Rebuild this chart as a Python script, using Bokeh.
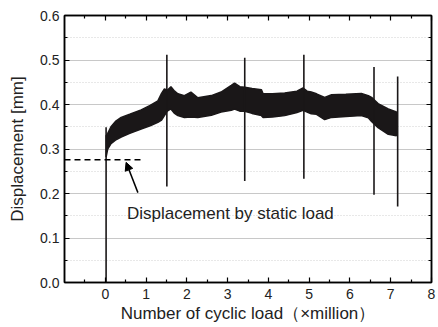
from bokeh.plotting import figure
from bokeh.models import (FixedTicker, LinearAxis, Range1d, Arrow, NormalHead,
                          CustomJSTickFormatter, ColumnDataSource)
from bokeh.core.properties import value
from bokeh.embed import file_html
from bokeh.resources import INLINE

# ---- data ----
cycles = [0.02, 0.06, 0.14, 0.25, 0.39, 0.6, 0.88, 1.1, 1.29, 1.38, 1.45, 1.52,
          1.61, 1.7, 1.78, 1.94, 2.1, 2.27, 2.6, 2.84, 3.09, 3.17, 3.3, 3.42,
          3.6, 3.83, 3.87, 4.1, 4.4, 4.7, 4.85, 4.95, 5.05, 5.18, 5.38, 5.55,
          5.9, 6.28, 6.45, 6.53, 6.69, 6.94, 7.14]
disp_upper = [0.33, 0.335, 0.35, 0.362, 0.371, 0.378, 0.388, 0.398, 0.408, 0.425,
              0.435, 0.432, 0.44, 0.43, 0.424, 0.42, 0.428, 0.415, 0.42, 0.428,
              0.443, 0.448, 0.44, 0.439, 0.436, 0.433, 0.424, 0.424, 0.426, 0.43,
              0.437, 0.43, 0.428, 0.424, 0.416, 0.422, 0.423, 0.425, 0.42, 0.416,
              0.402, 0.39, 0.383]
disp_lower = [0.282, 0.30, 0.312, 0.32, 0.327, 0.335, 0.345, 0.352, 0.36, 0.365,
              0.375, 0.385, 0.39, 0.38, 0.375, 0.371, 0.372, 0.371, 0.376, 0.383,
              0.387, 0.39, 0.385, 0.385, 0.38, 0.375, 0.371, 0.372, 0.375, 0.382,
              0.387, 0.383, 0.379, 0.378, 0.366, 0.371, 0.373, 0.375, 0.37, 0.362,
              0.348, 0.333, 0.330]

spike_x = [0.02, 1.51, 3.42, 4.87, 6.59, 7.17]
spike_low = [0.0, 0.216, 0.228, 0.233, 0.197, 0.171]
spike_high = [0.349, 0.512, 0.505, 0.512, 0.484, 0.463]

static_disp = 0.276
static_x = [-1.0, 0.88]
static_y = [static_disp, static_disp]

note_text = ["Displacement by static load"]
note_x = [0.53]
note_y = [0.155]
arrow_from = (0.80, 0.202)
arrow_to = (0.51, 0.270)

x_ticks = [0, 1, 2, 3, 4, 5, 6, 7, 8]
x_minor = [-0.5, 0.5, 1.5, 2.5, 3.5, 4.5, 5.5, 6.5, 7.5]
y_ticks = [0.0, 0.1, 0.2, 0.3, 0.4, 0.5, 0.6]
y_minor = [0.05, 0.15, 0.25, 0.35, 0.45, 0.55]

FONT = "Liberation Sans"

p = figure(width=438, height=327, output_backend="svg", toolbar_location=None,
           x_range=Range1d(-1, 8), y_range=Range1d(0, 0.6),
           min_border_left=64, min_border_right=7, min_border_top=15,
           min_border_bottom=45)
p.outline_line_color = "black"
p.outline_line_width = 1.5
p.background_fill_color = "white"
p.border_fill_color = "white"

# grid
p.xgrid.visible = False
p.ygrid.ticker = FixedTicker(ticks=y_ticks, minor_ticks=y_minor)
p.ygrid.grid_line_color = "#c8c8c8"
p.ygrid.grid_line_width = 1
p.ygrid.minor_grid_line_color = "#d0d0d0"
p.ygrid.minor_grid_line_dash = "1 2"
p.ygrid.minor_grid_line_width = 1


def style_axis(ax, labels=True):
    ax.axis_line_color = "black"
    ax.axis_line_width = 1.5
    ax.major_tick_in = 5
    ax.major_tick_out = 0
    ax.minor_tick_in = 3
    ax.minor_tick_out = 0
    ax.major_tick_line_color = "black"
    ax.minor_tick_line_color = "black"
    ax.major_tick_line_width = 1.2
    ax.minor_tick_line_width = 1.2
    ax.major_label_text_font = FONT
    ax.major_label_text_font_size = "14px"
    ax.major_label_text_color = "#222222"
    ax.axis_label_text_font = FONT
    ax.axis_label_text_font_style = "normal"
    ax.axis_label_text_font_size = "17px"
    ax.axis_label_text_color = "#222222"
    if not labels:
        ax.major_label_standoff = 0
        ax.formatter = CustomJSTickFormatter(code="return '';")


xa = p.xaxis[0]
xa.ticker = FixedTicker(ticks=x_ticks, minor_ticks=x_minor)
xa.axis_label = "Number of cyclic load（×million）"
style_axis(xa)
xa.major_label_standoff = 6
xa.axis_label_standoff = 2

ya = p.yaxis[0]
ya.ticker = FixedTicker(ticks=y_ticks, minor_ticks=y_minor)
ya.formatter = CustomJSTickFormatter(code="return tick.toFixed(1);")
ya.axis_label = "Displacement [mm]"
style_axis(ya)
ya.major_label_standoff = 5
ya.axis_label_standoff = 10

top = LinearAxis(ticker=FixedTicker(ticks=x_ticks, minor_ticks=x_minor))
style_axis(top, labels=False)
p.add_layout(top, "above")
right = LinearAxis(ticker=FixedTicker(ticks=y_ticks, minor_ticks=y_minor))
style_axis(right, labels=False)
p.add_layout(right, "right")

# data band
band = ColumnDataSource(dict(x=cycles, y1=disp_lower, y2=disp_upper))
p.varea(x="x", y1="y1", y2="y2", source=band, fill_color="#1a1718")
p.patch(x=cycles + cycles[::-1], y=disp_upper + disp_lower[::-1],
        fill_color=None, line_color="#1a1718", line_width=1.5)

# spikes
p.segment(x0=spike_x, y0=spike_low, x1=spike_x, y1=spike_high,
          line_color="#1a1718", line_width=1.6)

# static load dashed line
p.line(static_x, static_y, line_color="black", line_width=1.6, line_dash="6 4")

# annotation
p.text(x=note_x, y=note_y, text=note_text, text_font=value(FONT),
       text_font_size="17px", text_color="#222222", text_baseline="alphabetic")
p.add_layout(Arrow(end=NormalHead(size=8, fill_color="black", line_color="black"),
                   x_start=arrow_from[0], y_start=arrow_from[1],
                   x_end=arrow_to[0], y_end=arrow_to[1],
                   line_color="black", line_width=1.5))

open("out.html", "w").write(file_html(p, INLINE))
